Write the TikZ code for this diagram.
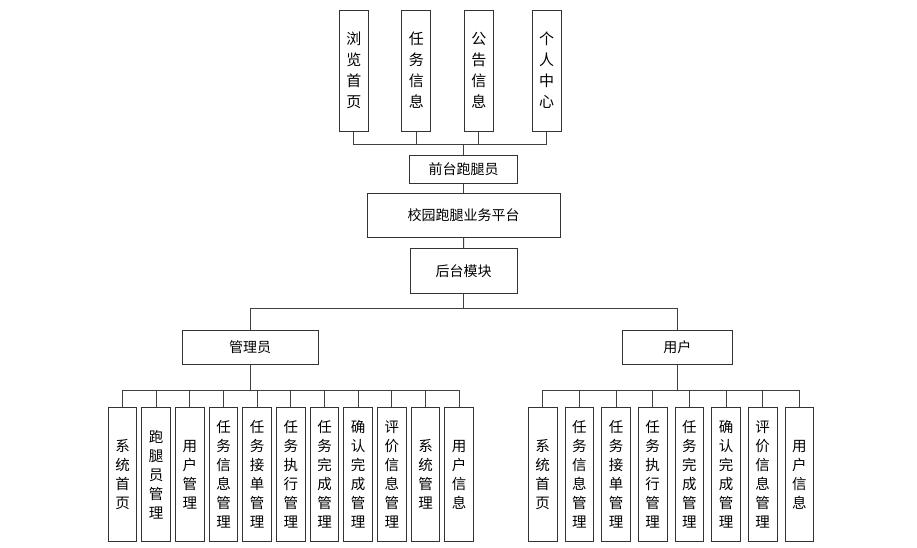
\documentclass[tikz,border=0pt]{standalone}
\usepackage{fontspec}
\newfontfamily\cjk{Noto Sans CJK SC}
\begin{document}
\begin{tikzpicture}[x=1pt,y=-1pt,
  box/.style={draw=black!80,line width=1pt,fill=white,inner sep=0pt,align=center,
    font=\cjk\fontsize{14}{19}\selectfont},
  topbox/.style={box,minimum width=29pt,minimum height=121pt,font=\cjk\fontsize{15}{21}\selectfont},
  leafL/.style={box,minimum width=28.7pt,minimum height=134.4pt,font=\cjk\fontsize{14.5}{19}\selectfont},
  line/.style={draw=black!75,line width=1pt}]
\useasboundingbox (0,0) rectangle (917,547);
\fill[white] (0,0) rectangle (917,547);
% top boxes
\node[topbox] (t1) at (353.8,70.5) {浏\\览\\首\\页};
\node[topbox] (t2) at (416.3,70.5) {任\\务\\信\\息};
\node[topbox] (t3) at (478.8,70.5) {公\\告\\信\\息};
\node[topbox] (t4) at (546.5,70.5) {个\\人\\中\\心};
\node[box,minimum width=108pt,minimum height=27.6pt] (fr) at (463.5,169.5) {前台跑腿员};
\node[box,minimum width=193pt,minimum height=44pt] (pf) at (463.5,215.5) {校园跑腿业务平台};
\node[box,minimum width=107pt,minimum height=45pt] (bk) at (463.7,270.8) {后台模块};
\node[box,minimum width=136pt,minimum height=34pt] (ad) at (250,347) {管理员};
\node[box,minimum width=110pt,minimum height=34pt] (us) at (677.3,347) {用户};
\coordinate (busT) at (0,144.7);
\coordinate (busM) at (0,308);
\coordinate (busB) at (0,390.3);
% top bus
\foreach \n in {t1,t2,t3,t4} \draw[line] (\n.south) -- (\n.south |- busT);
\draw[line] (t1.south |- busT) -- (t4.south |- busT);
\draw[line] (fr.north) -- (fr.north |- busT);
\draw[line] (fr.south) -- (pf.north);
\draw[line] (pf.south) -- (bk.north);
% middle bus
\draw[line] (bk.south) -- (bk.south |- busM);
\draw[line] (ad.north |- busM) -- (us.north |- busM);
\draw[line] (ad.north) -- (ad.north |- busM);
\draw[line] (us.north) -- (us.north |- busM);
% admin leaves
\foreach \t [count=\i from 0] in {系\\统\\首\\页,跑\\腿\\员\\管\\理,用\\户\\管\\理,任\\务\\信\\息\\管\\理,任\\务\\接\\单\\管\\理,任\\务\\执\\行\\管\\理,任\\务\\完\\成\\管\\理,确\\认\\完\\成\\管\\理,评\\价\\信\\息\\管\\理,系\\统\\管\\理,用\\户\\信\\息}{
  \node[leafL] (a\i) at (122.5+33.67*\i,474.5) {\t};
  \draw[line] (a\i.north) -- (a\i.north |- busB);
}
\draw[line] (a0.north |- busB) -- (a10.north |- busB);
\draw[line] (ad.south) -- (ad.south |- busB);
% user leaves
\foreach \t [count=\i from 0] in {系\\统\\首\\页,任\\务\\信\\息\\管\\理,任\\务\\接\\单\\管\\理,任\\务\\执\\行\\管\\理,任\\务\\完\\成\\管\\理,确\\认\\完\\成\\管\\理,评\\价\\信\\息\\管\\理,用\\户\\信\\息}{
  \node[leafL] (u\i) at (542.7+36.67*\i,474.5) {\t};
  \draw[line] (u\i.north) -- (u\i.north |- busB);
}
\draw[line] (u0.north |- busB) -- (u7.north |- busB);
\draw[line] (us.south) -- (us.south |- busB);
\end{tikzpicture}
\end{document}
